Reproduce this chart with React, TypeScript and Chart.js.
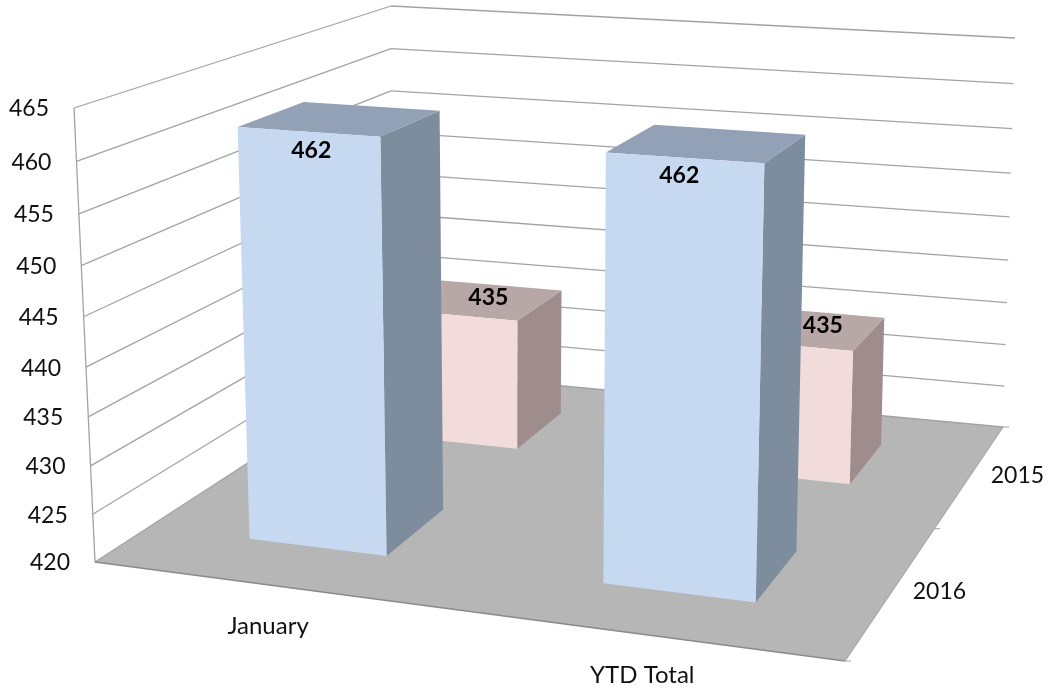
import React, { useEffect, useRef } from "react";
import { Chart, BarController, BarElement, CategoryScale, LinearScale } from "chart.js";

// ---- data ----
const categories = ["January", "YTD Total"];
const seriesNames = ["2015", "2016"];
const values2015 = [435, 435];
const values2016 = [462, 462];
const axisMin = 420;
const axisMax = 465;
const axisStep = 5;

// ---- camera: the eight corners of the chart box on screen ----
type P = [number, number];
const FLB: P = [95, 562], FRB: P = [845, 661], BLB: P = [391, 370], BRB: P = [1003, 427];
const FLT: P = [74, 108], FRT: P = [860, 161], BLT: P = [391, 6], BRT: P = [1015, 38];
const warpU = (t: number) => (0.9 * t) / (1 - 0.1 * t);
const warpW = (t: number) => (1.3 * t) / (1 + 0.3 * t);
const warpV = (t: number) => (0.94 * t) / (1 - 0.06 * t);
const lerp = (a: P, b: P, t: number): P => [a[0] + (b[0] - a[0]) * t, a[1] + (b[1] - a[1]) * t];
const project = (u: number, w: number, v: number): P => {
  const bottom = lerp(lerp(FLB, FRB, u), lerp(BLB, BRB, u), w);
  const top = lerp(lerp(FLT, FRT, u), lerp(BLT, BRT, u), w);
  return lerp(bottom, top, v);
};

// ---- styles ----
const FONT = "Lato, 'Open Sans', sans-serif";
const GRID = "#a3a3a3";
const FLOOR = "#b6b6b6";
const TEXT = "#111111";
const labelNudge: P[][] = [
  [[34, -18], [40, -19]],
  [[3, 19], [-5, 18]],
];

const poly = (ctx: CanvasRenderingContext2D, pts: P[], fill: string) => {
  ctx.beginPath();
  pts.forEach((p, i) => (i ? ctx.lineTo(p[0], p[1]) : ctx.moveTo(p[0], p[1])));
  ctx.closePath();
  ctx.fillStyle = fill;
  ctx.fill();
};
const seg = (ctx: CanvasRenderingContext2D, a: P, b: P, color: string, width = 1.3) => {
  ctx.beginPath();
  ctx.moveTo(a[0], a[1]);
  ctx.lineTo(b[0], b[1]);
  ctx.strokeStyle = color;
  ctx.lineWidth = width;
  ctx.stroke();
};

const normV = (chart: any, px: number) => {
  const { top, bottom } = chart.chartArea;
  return warpV((bottom - px) / (bottom - top));
};

// A bar controller that keeps Chart.js' own layout of the bars and paints them in the box.
class Bar3DController extends BarController {
  static id = "bar3d";
  static defaults = BarController.defaults;
  static overrides = BarController.overrides;
  draw() {
    const chart: any = this.chart;
    const ctx = chart.ctx;
    const { left, right } = chart.chartArea;
    const ds: any = this.getDataset();
    const meta = this.getMeta();
    const n = chart.data.datasets.length;
    const centre = (n - meta.index - 0.5) / n;
    const w0 = warpW(centre - ds.depthHalf);
    const w1 = warpW(centre + ds.depthHalf);
    const v0 = normV(chart, chart.scales.y.getBasePixel());
    meta.data.forEach((el: any) => {
      const u0 = warpU((el.x - el.width / 2 - left) / (right - left));
      const u1 = warpU((el.x + el.width / 2 - left) / (right - left));
      const v1 = normV(chart, el.y);
      poly(ctx, [project(u1, w0, v0), project(u1, w1, v0), project(u1, w1, v1), project(u1, w0, v1)], ds.sideColor);
      poly(ctx, [project(u0, w0, v1), project(u1, w0, v1), project(u1, w1, v1), project(u0, w1, v1)], ds.topColor);
      poly(ctx, [project(u0, w0, v0), project(u1, w0, v0), project(u1, w0, v1), project(u0, w0, v1)], ds.backgroundColor);
    });
  }
}

const box3d = {
  id: "box3d",
  beforeDatasetsDraw(chart: any) {
    const ctx = chart.ctx;
    const y = chart.scales.y;
    poly(ctx, [project(0, 0, 0), project(1, 0, 0), project(1, 1, 0), project(0, 1, 0)], FLOOR);
    y.ticks.forEach((tick: any) => {
      const v = normV(chart, y.getPixelForValue(tick.value));
      seg(ctx, project(0, 0, v), project(0, 1, v), GRID);
      seg(ctx, project(0, 1, v), project(1, 1, v), GRID);
      const p = project(0, 0, v);
      ctx.font = `23px ${FONT}`;
      ctx.fillStyle = TEXT;
      ctx.textAlign = "right";
      ctx.textBaseline = "middle";
      ctx.fillText(String(tick.value), p[0] - 25, p[1] + 1);
    });
    seg(ctx, project(0, 0, 0), project(0, 0, 1), GRID);
    seg(ctx, project(0, 0, 0), project(1, 0, 0), "#8a8a8a");
    seg(ctx, project(1, 0, 0), project(1, 1, 0), "#a8a8a8");
    [0, 0.5, 1].forEach((t) => {
      const p = project(1, warpW(t), 0);
      seg(ctx, p, [p[0] + 6, p[1]], GRID, 1);
    });
  },
  afterDatasetsDraw(chart: any) {
    const ctx = chart.ctx;
    const { left, right } = chart.chartArea;
    const n = chart.data.datasets.length;
    ctx.fillStyle = TEXT;
    ctx.textBaseline = "middle";
    ctx.textAlign = "center";
    ctx.font = `24px ${FONT}`;
    chart.data.labels.forEach((label: string, i: number) => {
      const t = (chart.scales.x.getPixelForValue(i) - left) / (right - left);
      const p = project(warpU(t), 0, 0);
      ctx.fillText(label, p[0], p[1] + 41);
    });
    ctx.textAlign = "left";
    ctx.font = `23px ${FONT}`;
    seriesNames.forEach((name, i) => {
      const p = project(1, warpW((n - i - 0.5) / n), 0);
      ctx.fillText(name, p[0] + 20, p[1] + 1);
    });
    ctx.textAlign = "center";
    ctx.font = `bold 23px ${FONT}`;
    ctx.fillStyle = "#000000";
    chart.data.datasets.forEach((ds: any, di: number) => {
      const meta = chart.getDatasetMeta(di);
      const w0 = warpW((n - di - 0.5) / n - ds.depthHalf);
      meta.data.forEach((el: any, i: number) => {
        const u = warpU((el.x - left) / (right - left));
        const p = project(u, w0, normV(chart, el.y));
        const nudge = labelNudge[di][i];
        ctx.fillText(String(ds.data[i]), p[0] + nudge[0], p[1] + nudge[1]);
      });
    });
  },
};

Chart.register(Bar3DController, BarElement, CategoryScale, LinearScale);

export default function App() {
  const ref = useRef<HTMLCanvasElement | null>(null);
  useEffect(() => {
    const chart = new Chart(ref.current as HTMLCanvasElement, {
      type: "bar3d" as any,
      data: {
        labels: categories,
        datasets: [
          { label: seriesNames[0], order: 1, data: values2015, backgroundColor: "#f2dcdb", sideColor: "#9e8d8c", topColor: "#b7a7a6", depthHalf: 0.1 } as any,
          { label: seriesNames[1], order: 0, data: values2016, backgroundColor: "#c6d9f1", sideColor: "#7e8d9e", topColor: "#93a1b6", depthHalf: 0.1 } as any,
        ],
      },
      options: {
        animation: false,
        responsive: false,
        devicePixelRatio: 1,
        layout: { padding: 0 },
        categoryPercentage: 0.4,
        barPercentage: 1,
        grouped: false,
        plugins: { legend: { display: false }, tooltip: { enabled: false } },
        scales: {
          x: { type: "category", display: false, offset: true, grid: { offset: true } },
          y: { type: "linear", display: false, min: axisMin, max: axisMax, ticks: { stepSize: axisStep } },
        },
      } as any,
      plugins: [box3d],
    });
    return () => chart.destroy();
  }, []);
  return (
    <div style={{ position: "absolute", left: 0, top: 0, width: 1051, height: 689, background: "#ffffff" }}>
      <canvas ref={ref} width={1051} height={689} style={{ display: "block" }} />
    </div>
  );
}
